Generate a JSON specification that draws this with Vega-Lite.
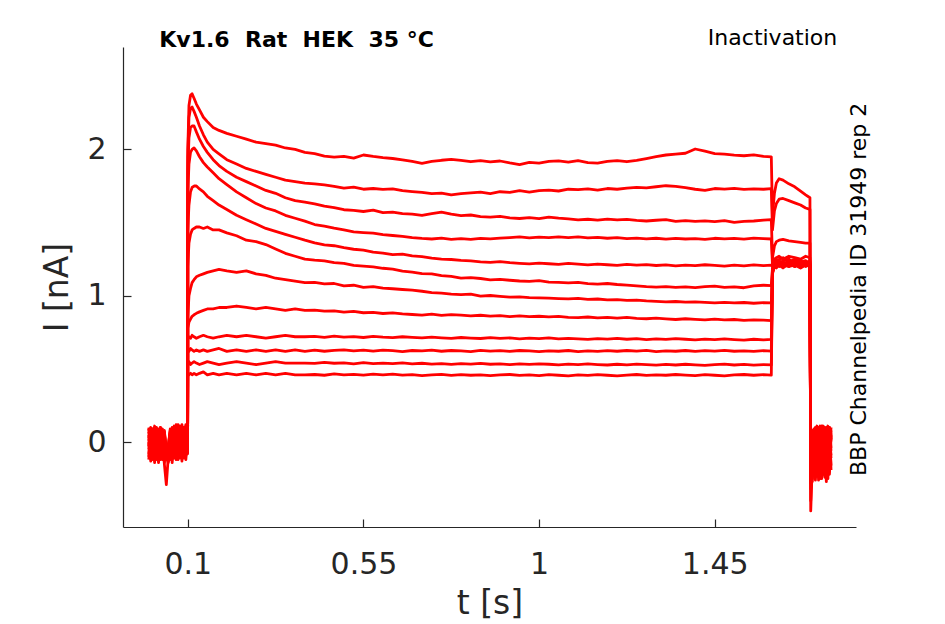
{
  "$schema": "https://vega.github.io/schema/vega-lite/v6.json",
  "width": 733,
  "height": 480,
  "autosize": "none",
  "padding": {"left": 123, "top": 47, "right": 89, "bottom": 97},
  "background": "white",
  "config": {
    "view": {"stroke": null},
    "axis": {
      "grid": false,
      "domainColor": "#262626",
      "tickColor": "#262626",
      "labelColor": "#262626",
      "titleColor": "#262626",
      "labelFont": "DejaVu Sans",
      "titleFont": "DejaVu Sans",
      "labelFontSize": 30,
      "titleFontSize": 33,
      "titleFontWeight": "normal",
      "tickSize": -8,
      "domainWidth": 1.2,
      "tickWidth": 1.2
    }
  },
  "layer": [
    {
      "data": {
        "values": [
          {"t": 0, "a": 0.05, "b": -0.08, "c": 0.09, "d": -0.03, "e": 0.02, "f": -0.12, "g": 0.07, "h": -0.05, "i": 0.10, "j": -0.10, "k": 0.00, "l": 0.04},
          {"t": 0.005, "a": -0.09, "b": 0.06, "c": -0.04, "d": 0.08, "e": -0.13, "f": 0.03, "g": -0.07, "h": 0.10, "i": -0.02, "j": 0.07, "k": -0.11, "l": -0.06},
          {"t": 0.01, "a": 0.08, "b": -0.12, "c": 0.05, "d": -0.09, "e": 0.06, "f": 0.09, "g": -0.03, "h": -0.10, "i": 0.04, "j": -0.05, "k": 0.09, "l": 0.02},
          {"t": 0.015, "a": -0.04, "b": 0.03, "c": -0.14, "d": 0.07, "e": -0.06, "f": -0.08, "g": 0.10, "h": 0.02, "i": -0.09, "j": 0.11, "k": -0.03, "l": -0.12},
          {"t": 0.02, "a": 0.10, "b": -0.05, "c": 0.07, "d": -0.11, "e": 0.09, "f": 0.05, "g": -0.12, "h": 0.08, "i": 0.03, "j": -0.08, "k": 0.06, "l": 0.07},
          {"t": 0.025, "a": -0.07, "b": 0.09, "c": -0.02, "d": 0.04, "e": -0.10, "f": -0.04, "g": 0.06, "h": -0.13, "i": 0.08, "j": 0.02, "k": -0.14, "l": -0.03},
          {"t": 0.03, "a": 0.03, "b": -0.11, "c": 0.10, "d": -0.06, "e": 0.05, "f": 0.10, "g": -0.09, "h": 0.04, "i": -0.12, "j": 0.09, "k": 0.05, "l": 0.08},
          {"t": 0.035, "a": -0.12, "b": 0.07, "c": -0.07, "d": 0.09, "e": -0.03, "f": -0.10, "g": 0.03, "h": -0.08, "i": 0.06, "j": -0.06, "k": -0.09, "l": -0.05},
          {"t": 0.04, "a": 0.06, "b": -0.03, "c": 0.02, "d": -0.14, "e": 0.08, "f": 0.01, "g": -0.15, "h": 0.06, "i": -0.04, "j": 0.03, "k": 0.07, "l": -0.10},
          {"t": 0.045, "a": -0.08, "b": -0.10, "c": -0.06, "d": -0.02, "e": -0.12, "f": -0.05, "g": -0.29, "h": -0.09, "i": -0.07, "j": -0.11, "k": -0.04, "l": -0.08},
          {"t": 0.05, "a": -0.03, "b": -0.14, "c": -0.09, "d": -0.06, "e": -0.05, "f": -0.12, "g": -0.10, "h": -0.04, "i": -0.13, "j": -0.02, "k": -0.08, "l": -0.11},
          {"t": 0.055, "a": 0.07, "b": -0.06, "c": 0.04, "d": -0.10, "e": 0.09, "f": -0.02, "g": 0.05, "h": -0.12, "i": 0.03, "j": 0.08, "k": -0.07, "l": 0.06},
          {"t": 0.06, "a": -0.10, "b": 0.08, "c": -0.12, "d": 0.05, "e": -0.07, "f": 0.09, "g": -0.14, "h": 0.07, "i": -0.09, "j": -0.04, "k": 0.10, "l": -0.06},
          {"t": 0.065, "a": 0.04, "b": -0.09, "c": 0.08, "d": -0.03, "e": 0.10, "f": -0.11, "g": 0.06, "h": -0.05, "i": 0.11, "j": -0.10, "k": -0.02, "l": 0.09},
          {"t": 0.07, "a": -0.06, "b": 0.11, "c": -0.05, "d": 0.10, "e": -0.02, "f": 0.04, "g": -0.08, "h": 0.12, "i": -0.06, "j": 0.07, "k": -0.12, "l": -0.03},
          {"t": 0.075, "a": 0.09, "b": -0.04, "c": 0.12, "d": -0.08, "e": 0.07, "f": -0.09, "g": 0.10, "h": -0.02, "i": 0.05, "j": -0.12, "k": 0.08, "l": 0.04},
          {"t": 0.08, "a": -0.11, "b": 0.06, "c": -0.03, "d": 0.11, "e": -0.09, "f": 0.07, "g": -0.06, "h": 0.09, "i": -0.10, "j": 0.04, "k": -0.05, "l": -0.09},
          {"t": 0.085, "a": 0.05, "b": -0.10, "c": 0.09, "d": -0.05, "e": 0.04, "f": -0.13, "g": 0.11, "h": -0.07, "i": 0.08, "j": -0.03, "k": 0.12, "l": 0.07},
          {"t": 0.09, "a": -0.04, "b": 0.08, "c": -0.08, "d": 0.06, "e": -0.11, "f": 0.10, "g": -0.04, "h": 0.05, "i": -0.08, "j": 0.10, "k": -0.07, "l": -0.02},
          {"t": 0.095, "a": 0.11, "b": -0.06, "c": 0.05, "d": -0.12, "e": 0.08, "f": -0.03, "g": 0.09, "h": -0.09, "i": 0.12, "j": -0.07, "k": 0.04, "l": 0.10},
          {"t": 0.0995, "a": -0.02, "b": 0.03, "c": -0.06, "d": 0.02, "e": -0.08, "f": 0.05, "g": -0.01, "h": 0.04, "i": -0.05, "j": 0.00, "k": -0.03, "l": 0.06},
          {"t": 0.1, "a": 2.00, "b": 1.95, "c": 1.85, "d": 1.70, "e": 1.45, "f": 1.20, "g": 0.85, "h": 0.78, "i": 0.71, "j": 0.63, "k": 0.54, "l": 0.47},
          {"t": 0.103, "a": 2.30, "b": 2.22, "c": 2.08, "d": 1.90, "e": 1.62, "f": 1.36, "g": 1.00, "h": 0.82, "i": 0.72, "j": 0.62, "k": 0.55, "l": 0.46},
          {"t": 0.107, "a": 2.37, "b": 2.28, "c": 2.15, "d": 1.98, "e": 1.71, "f": 1.42, "g": 1.05, "h": 0.84, "i": 0.71, "j": 0.64, "k": 0.53, "l": 0.47},
          {"t": 0.111, "a": 2.38, "b": 2.29, "c": 2.16, "d": 2.00, "e": 1.74, "f": 1.45, "g": 1.09, "h": 0.86, "i": 0.73, "j": 0.63, "k": 0.54, "l": 0.46},
          {"t": 0.116, "a": 2.35, "b": 2.26, "c": 2.16, "d": 2.01, "e": 1.75, "f": 1.46, "g": 1.11, "h": 0.87, "i": 0.72, "j": 0.62, "k": 0.55, "l": 0.47},
          {"t": 0.122, "a": 2.31, "b": 2.22, "c": 2.12, "d": 1.99, "e": 1.75, "f": 1.47, "g": 1.13, "h": 0.88, "i": 0.71, "j": 0.63, "k": 0.54, "l": 0.46},
          {"t": 0.13, "a": 2.27, "b": 2.16, "c": 2.07, "d": 1.95, "e": 1.73, "f": 1.47, "g": 1.14, "h": 0.89, "i": 0.72, "j": 0.62, "k": 0.53, "l": 0.47},
          {"t": 0.14, "a": 2.22, "b": 2.10, "c": 2.02, "d": 1.91, "e": 1.71, "f": 1.46, "g": 1.15, "h": 0.90, "i": 0.73, "j": 0.63, "k": 0.54, "l": 0.48},
          {"t": 0.15, "a": 2.19, "b": 2.05, "c": 1.98, "d": 1.88, "e": 1.68, "f": 1.47, "g": 1.16, "h": 0.91, "i": 0.72, "j": 0.62, "k": 0.55, "l": 0.46},
          {"t": 0.165, "a": 2.15, "b": 2.00, "c": 1.93, "d": 1.84, "e": 1.65, "f": 1.45, "g": 1.17, "h": 0.91, "i": 0.71, "j": 0.63, "k": 0.54, "l": 0.47},
          {"t": 0.18, "a": 2.13, "b": 1.97, "c": 1.89, "d": 1.80, "e": 1.62, "f": 1.45, "g": 1.18, "h": 0.92, "i": 0.72, "j": 0.64, "k": 0.53, "l": 0.46},
          {"t": 0.2, "a": 2.11, "b": 1.93, "c": 1.85, "d": 1.76, "e": 1.59, "f": 1.43, "g": 1.17, "h": 0.92, "i": 0.73, "j": 0.62, "k": 0.54, "l": 0.47},
          {"t": 0.225, "a": 2.09, "b": 1.90, "c": 1.81, "d": 1.71, "e": 1.55, "f": 1.41, "g": 1.16, "h": 0.93, "i": 0.72, "j": 0.63, "k": 0.55, "l": 0.46},
          {"t": 0.25, "a": 2.07, "b": 1.87, "c": 1.78, "d": 1.67, "e": 1.52, "f": 1.38, "g": 1.17, "h": 0.92, "i": 0.73, "j": 0.62, "k": 0.54, "l": 0.47},
          {"t": 0.275, "a": 2.05, "b": 1.85, "c": 1.75, "d": 1.63, "e": 1.49, "f": 1.37, "g": 1.15, "h": 0.91, "i": 0.72, "j": 0.63, "k": 0.53, "l": 0.46},
          {"t": 0.3, "a": 2.04, "b": 1.83, "c": 1.72, "d": 1.60, "e": 1.46, "f": 1.35, "g": 1.14, "h": 0.92, "i": 0.71, "j": 0.62, "k": 0.54, "l": 0.47},
          {"t": 0.325, "a": 2.03, "b": 1.81, "c": 1.70, "d": 1.58, "e": 1.44, "f": 1.32, "g": 1.12, "h": 0.91, "i": 0.72, "j": 0.63, "k": 0.55, "l": 0.46},
          {"t": 0.35, "a": 2.01, "b": 1.79, "c": 1.67, "d": 1.55, "e": 1.42, "f": 1.29, "g": 1.11, "h": 0.90, "i": 0.73, "j": 0.62, "k": 0.54, "l": 0.47},
          {"t": 0.375, "a": 2.00, "b": 1.78, "c": 1.65, "d": 1.53, "e": 1.40, "f": 1.27, "g": 1.10, "h": 0.91, "i": 0.72, "j": 0.63, "k": 0.54, "l": 0.46},
          {"t": 0.4, "a": 1.98, "b": 1.77, "c": 1.64, "d": 1.51, "e": 1.38, "f": 1.25, "g": 1.09, "h": 0.90, "i": 0.72, "j": 0.62, "k": 0.54, "l": 0.46},
          {"t": 0.425, "a": 1.972, "b": 1.765, "c": 1.628, "d": 1.487, "e": 1.362, "f": 1.243, "g": 1.092, "h": 0.902, "i": 0.722, "j": 0.628, "k": 0.538, "l": 0.462},
          {"t": 0.45, "a": 1.955, "b": 1.758, "c": 1.612, "d": 1.476, "e": 1.348, "f": 1.238, "g": 1.081, "h": 0.895, "i": 0.716, "j": 0.621, "k": 0.545, "l": 0.457},
          {"t": 0.475, "a": 1.948, "b": 1.748, "c": 1.603, "d": 1.462, "e": 1.342, "f": 1.226, "g": 1.084, "h": 0.897, "i": 0.724, "j": 0.627, "k": 0.539, "l": 0.466},
          {"t": 0.5, "a": 1.953, "b": 1.735, "c": 1.588, "d": 1.451, "e": 1.329, "f": 1.222, "g": 1.068, "h": 0.888, "i": 0.718, "j": 0.631, "k": 0.541, "l": 0.459},
          {"t": 0.525, "a": 1.941, "b": 1.742, "c": 1.584, "d": 1.437, "e": 1.318, "f": 1.208, "g": 1.072, "h": 0.893, "i": 0.721, "j": 0.624, "k": 0.535, "l": 0.463},
          {"t": 0.55, "a": 1.962, "b": 1.728, "c": 1.576, "d": 1.432, "e": 1.312, "f": 1.203, "g": 1.058, "h": 0.884, "i": 0.715, "j": 0.628, "k": 0.543, "l": 0.458},
          {"t": 0.575, "a": 1.952, "b": 1.733, "c": 1.585, "d": 1.428, "e": 1.298, "f": 1.197, "g": 1.063, "h": 0.887, "i": 0.723, "j": 0.622, "k": 0.537, "l": 0.464},
          {"t": 0.6, "a": 1.944, "b": 1.727, "c": 1.568, "d": 1.418, "e": 1.292, "f": 1.188, "g": 1.052, "h": 0.879, "i": 0.717, "j": 0.629, "k": 0.540, "l": 0.460},
          {"t": 0.625, "a": 1.938, "b": 1.731, "c": 1.572, "d": 1.412, "e": 1.281, "f": 1.182, "g": 1.048, "h": 0.883, "i": 0.714, "j": 0.625, "k": 0.536, "l": 0.465},
          {"t": 0.65, "a": 1.929, "b": 1.718, "c": 1.561, "d": 1.406, "e": 1.284, "f": 1.168, "g": 1.043, "h": 0.876, "i": 0.720, "j": 0.619, "k": 0.542, "l": 0.458},
          {"t": 0.675, "a": 1.918, "b": 1.712, "c": 1.558, "d": 1.398, "e": 1.272, "f": 1.162, "g": 1.038, "h": 0.872, "i": 0.716, "j": 0.626, "k": 0.535, "l": 0.461},
          {"t": 0.7, "a": 1.905, "b": 1.707, "c": 1.549, "d": 1.392, "e": 1.268, "f": 1.152, "g": 1.031, "h": 0.868, "i": 0.712, "j": 0.623, "k": 0.539, "l": 0.455},
          {"t": 0.725, "a": 1.918, "b": 1.698, "c": 1.562, "d": 1.388, "e": 1.257, "f": 1.149, "g": 1.022, "h": 0.874, "i": 0.718, "j": 0.628, "k": 0.533, "l": 0.459},
          {"t": 0.75, "a": 1.926, "b": 1.702, "c": 1.572, "d": 1.394, "e": 1.251, "f": 1.138, "g": 1.018, "h": 0.866, "i": 0.713, "j": 0.621, "k": 0.537, "l": 0.463},
          {"t": 0.775, "a": 1.932, "b": 1.689, "c": 1.558, "d": 1.386, "e": 1.248, "f": 1.132, "g": 1.012, "h": 0.871, "i": 0.709, "j": 0.626, "k": 0.531, "l": 0.456},
          {"t": 0.8, "a": 1.925, "b": 1.698, "c": 1.548, "d": 1.391, "e": 1.242, "f": 1.121, "g": 1.008, "h": 0.868, "i": 0.715, "j": 0.624, "k": 0.536, "l": 0.461},
          {"t": 0.825, "a": 1.916, "b": 1.703, "c": 1.552, "d": 1.385, "e": 1.238, "f": 1.124, "g": 1.011, "h": 0.863, "i": 0.711, "j": 0.619, "k": 0.533, "l": 0.457},
          {"t": 0.85, "a": 1.924, "b": 1.708, "c": 1.541, "d": 1.392, "e": 1.232, "f": 1.118, "g": 0.998, "h": 0.867, "i": 0.708, "j": 0.627, "k": 0.538, "l": 0.460},
          {"t": 0.875, "a": 1.915, "b": 1.698, "c": 1.538, "d": 1.389, "e": 1.228, "f": 1.109, "g": 1.002, "h": 0.861, "i": 0.714, "j": 0.622, "k": 0.532, "l": 0.455},
          {"t": 0.9, "a": 1.921, "b": 1.711, "c": 1.543, "d": 1.394, "e": 1.233, "f": 1.112, "g": 0.996, "h": 0.864, "i": 0.709, "j": 0.625, "k": 0.535, "l": 0.459},
          {"t": 0.925, "a": 1.908, "b": 1.706, "c": 1.532, "d": 1.398, "e": 1.226, "f": 1.106, "g": 0.991, "h": 0.858, "i": 0.712, "j": 0.620, "k": 0.530, "l": 0.462},
          {"t": 0.95, "a": 1.897, "b": 1.718, "c": 1.528, "d": 1.402, "e": 1.222, "f": 1.101, "g": 0.993, "h": 0.862, "i": 0.706, "j": 0.626, "k": 0.534, "l": 0.456},
          {"t": 0.975, "a": 1.911, "b": 1.709, "c": 1.534, "d": 1.396, "e": 1.218, "f": 1.098, "g": 0.988, "h": 0.857, "i": 0.711, "j": 0.623, "k": 0.531, "l": 0.460},
          {"t": 1.0, "a": 1.906, "b": 1.719, "c": 1.527, "d": 1.401, "e": 1.223, "f": 1.103, "g": 0.986, "h": 0.860, "i": 0.707, "j": 0.618, "k": 0.535, "l": 0.455},
          {"t": 1.025, "a": 1.918, "b": 1.722, "c": 1.538, "d": 1.397, "e": 1.219, "f": 1.094, "g": 0.984, "h": 0.856, "i": 0.712, "j": 0.624, "k": 0.532, "l": 0.461},
          {"t": 1.05, "a": 1.922, "b": 1.716, "c": 1.531, "d": 1.403, "e": 1.214, "f": 1.091, "g": 0.981, "h": 0.859, "i": 0.705, "j": 0.621, "k": 0.528, "l": 0.457},
          {"t": 1.075, "a": 1.913, "b": 1.728, "c": 1.526, "d": 1.398, "e": 1.221, "f": 1.088, "g": 0.979, "h": 0.853, "i": 0.709, "j": 0.626, "k": 0.533, "l": 0.453},
          {"t": 1.1, "a": 1.924, "b": 1.725, "c": 1.519, "d": 1.402, "e": 1.216, "f": 1.092, "g": 0.982, "h": 0.851, "i": 0.706, "j": 0.619, "k": 0.529, "l": 0.459},
          {"t": 1.125, "a": 1.910, "b": 1.731, "c": 1.523, "d": 1.396, "e": 1.211, "f": 1.083, "g": 0.976, "h": 0.855, "i": 0.702, "j": 0.624, "k": 0.534, "l": 0.456},
          {"t": 1.15, "a": 1.907, "b": 1.722, "c": 1.517, "d": 1.399, "e": 1.217, "f": 1.079, "g": 0.978, "h": 0.849, "i": 0.707, "j": 0.620, "k": 0.530, "l": 0.461},
          {"t": 1.175, "a": 1.919, "b": 1.733, "c": 1.524, "d": 1.393, "e": 1.212, "f": 1.084, "g": 0.972, "h": 0.852, "i": 0.704, "j": 0.625, "k": 0.527, "l": 0.457},
          {"t": 1.2, "a": 1.923, "b": 1.728, "c": 1.518, "d": 1.397, "e": 1.208, "f": 1.077, "g": 0.974, "h": 0.848, "i": 0.709, "j": 0.621, "k": 0.532, "l": 0.453},
          {"t": 1.225, "a": 1.916, "b": 1.736, "c": 1.522, "d": 1.391, "e": 1.214, "f": 1.073, "g": 0.968, "h": 0.852, "i": 0.703, "j": 0.626, "k": 0.528, "l": 0.458},
          {"t": 1.25, "a": 1.925, "b": 1.741, "c": 1.515, "d": 1.394, "e": 1.209, "f": 1.068, "g": 0.971, "h": 0.846, "i": 0.707, "j": 0.622, "k": 0.533, "l": 0.462},
          {"t": 1.275, "a": 1.938, "b": 1.738, "c": 1.511, "d": 1.389, "e": 1.213, "f": 1.062, "g": 0.965, "h": 0.843, "i": 0.701, "j": 0.627, "k": 0.529, "l": 0.456},
          {"t": 1.3, "a": 1.951, "b": 1.745, "c": 1.516, "d": 1.393, "e": 1.207, "f": 1.059, "g": 0.962, "h": 0.847, "i": 0.705, "j": 0.619, "k": 0.526, "l": 0.460},
          {"t": 1.325, "a": 1.962, "b": 1.752, "c": 1.521, "d": 1.387, "e": 1.211, "f": 1.063, "g": 0.958, "h": 0.842, "i": 0.702, "j": 0.624, "k": 0.531, "l": 0.457},
          {"t": 1.35, "a": 1.968, "b": 1.748, "c": 1.509, "d": 1.392, "e": 1.205, "f": 1.057, "g": 0.961, "h": 0.838, "i": 0.707, "j": 0.621, "k": 0.527, "l": 0.462},
          {"t": 1.375, "a": 1.974, "b": 1.739, "c": 1.514, "d": 1.388, "e": 1.209, "f": 1.061, "g": 0.956, "h": 0.843, "i": 0.703, "j": 0.626, "k": 0.532, "l": 0.458},
          {"t": 1.4, "a": 2.003, "b": 1.728, "c": 1.508, "d": 1.391, "e": 1.206, "f": 1.056, "g": 0.959, "h": 0.839, "i": 0.699, "j": 0.620, "k": 0.528, "l": 0.455},
          {"t": 1.425, "a": 1.988, "b": 1.721, "c": 1.512, "d": 1.386, "e": 1.212, "f": 1.062, "g": 0.955, "h": 0.836, "i": 0.704, "j": 0.625, "k": 0.524, "l": 0.461},
          {"t": 1.45, "a": 1.972, "b": 1.733, "c": 1.507, "d": 1.393, "e": 1.208, "f": 1.066, "g": 0.952, "h": 0.841, "i": 0.700, "j": 0.622, "k": 0.529, "l": 0.457},
          {"t": 1.475, "a": 1.968, "b": 1.729, "c": 1.513, "d": 1.389, "e": 1.203, "f": 1.058, "g": 0.955, "h": 0.835, "i": 0.705, "j": 0.627, "k": 0.533, "l": 0.453},
          {"t": 1.5, "a": 1.961, "b": 1.734, "c": 1.502, "d": 1.392, "e": 1.209, "f": 1.061, "g": 0.951, "h": 0.838, "i": 0.701, "j": 0.621, "k": 0.527, "l": 0.459},
          {"t": 1.525, "a": 1.957, "b": 1.727, "c": 1.509, "d": 1.387, "e": 1.205, "f": 1.055, "g": 0.954, "h": 0.832, "i": 0.697, "j": 0.624, "k": 0.531, "l": 0.462},
          {"t": 1.55, "a": 1.963, "b": 1.731, "c": 1.511, "d": 1.394, "e": 1.211, "f": 1.068, "g": 0.949, "h": 0.836, "i": 0.703, "j": 0.620, "k": 0.526, "l": 0.457},
          {"t": 1.575, "a": 1.952, "b": 1.728, "c": 1.517, "d": 1.391, "e": 1.206, "f": 1.072, "g": 0.953, "h": 0.833, "i": 0.699, "j": 0.625, "k": 0.530, "l": 0.461},
          {"t": 1.595, "a": 1.949, "b": 1.732, "c": 1.521, "d": 1.388, "e": 1.209, "f": 1.069, "g": 0.951, "h": 0.830, "i": 0.702, "j": 0.622, "k": 0.528, "l": 0.458},
          {"t": 1.598, "a": 1.55, "b": 1.45, "c": 1.26, "d": 1.21, "e": 1.20, "f": 1.19, "g": 1.18, "h": 1.17, "i": 1.17, "j": 1.16, "k": 1.16, "l": 1.15},
          {"t": 1.603, "a": 1.70, "b": 1.58, "c": 1.34, "d": 1.25, "e": 1.24, "f": 1.23, "g": 1.22, "h": 1.22, "i": 1.21, "j": 1.21, "k": 1.20, "l": 1.20},
          {"t": 1.608, "a": 1.77, "b": 1.63, "c": 1.37, "d": 1.26, "e": 1.23, "f": 1.25, "g": 1.21, "h": 1.24, "i": 1.20, "j": 1.23, "k": 1.22, "l": 1.19},
          {"t": 1.615, "a": 1.80, "b": 1.66, "c": 1.38, "d": 1.27, "e": 1.25, "f": 1.22, "g": 1.24, "h": 1.21, "i": 1.23, "j": 1.20, "k": 1.21, "l": 1.22},
          {"t": 1.625, "a": 1.79, "b": 1.665, "c": 1.385, "d": 1.25, "e": 1.26, "f": 1.24, "g": 1.22, "h": 1.23, "i": 1.21, "j": 1.22, "k": 1.19, "l": 1.21},
          {"t": 1.64, "a": 1.765, "b": 1.65, "c": 1.375, "d": 1.27, "e": 1.23, "f": 1.25, "g": 1.21, "h": 1.22, "i": 1.24, "j": 1.20, "k": 1.22, "l": 1.20},
          {"t": 1.655, "a": 1.745, "b": 1.635, "c": 1.37, "d": 1.26, "e": 1.25, "f": 1.22, "g": 1.24, "h": 1.20, "i": 1.22, "j": 1.23, "k": 1.20, "l": 1.21},
          {"t": 1.67, "a": 1.715, "b": 1.62, "c": 1.365, "d": 1.25, "e": 1.24, "f": 1.23, "g": 1.22, "h": 1.23, "i": 1.20, "j": 1.21, "k": 1.23, "l": 1.19},
          {"t": 1.683, "a": 1.69, "b": 1.60, "c": 1.36, "d": 1.27, "e": 1.22, "f": 1.24, "g": 1.23, "h": 1.21, "i": 1.23, "j": 1.22, "k": 1.20, "l": 1.21},
          {"t": 1.694, "a": 1.67, "b": 1.59, "c": 1.36, "d": 1.26, "e": 1.24, "f": 1.22, "g": 1.21, "h": 1.23, "i": 1.21, "j": 1.20, "k": 1.22, "l": 1.20},
          {"t": 1.696, "a": -0.47, "b": -0.40, "c": -0.32, "d": -0.28, "e": -0.26, "f": -0.25, "g": -0.22, "h": -0.24, "i": -0.20, "j": -0.22, "k": -0.18, "l": -0.21},
          {"t": 1.7, "a": -0.15, "b": -0.05, "c": -0.22, "d": 0.02, "e": -0.12, "f": -0.27, "g": -0.08, "h": 0.05, "i": -0.18, "j": -0.02, "k": -0.25, "l": 0.08},
          {"t": 1.704, "a": 0.06, "b": -0.20, "c": 0.03, "d": -0.14, "e": 0.09, "f": -0.06, "g": -0.22, "h": 0.00, "i": 0.07, "j": -0.16, "k": 0.04, "l": -0.10},
          {"t": 1.708, "a": -0.24, "b": 0.08, "c": -0.12, "d": 0.05, "e": -0.18, "f": 0.10, "g": 0.02, "h": -0.26, "i": -0.05, "j": 0.09, "k": -0.14, "l": 0.01},
          {"t": 1.712, "a": 0.10, "b": -0.09, "c": 0.07, "d": -0.23, "e": 0.03, "f": -0.15, "g": 0.09, "h": -0.07, "i": -0.21, "j": 0.04, "k": 0.11, "l": -0.19},
          {"t": 1.716, "a": -0.08, "b": 0.04, "c": -0.26, "d": 0.09, "e": -0.10, "f": 0.06, "g": -0.17, "h": 0.10, "i": 0.02, "j": -0.24, "k": -0.06, "l": 0.07},
          {"t": 1.72, "a": 0.02, "b": -0.25, "c": 0.10, "d": -0.05, "e": 0.06, "f": -0.22, "g": 0.05, "h": -0.14, "i": 0.09, "j": -0.08, "k": -0.20, "l": 0.11},
          {"t": 1.724, "a": -0.19, "b": 0.11, "c": -0.04, "d": -0.17, "e": -0.25, "f": 0.03, "g": -0.10, "h": 0.07, "i": -0.13, "j": 0.10, "k": 0.05, "l": -0.09},
          {"t": 1.728, "a": 0.09, "b": -0.12, "c": 0.06, "d": 0.10, "e": -0.03, "f": -0.18, "g": 0.11, "h": -0.22, "i": 0.06, "j": -0.19, "k": -0.11, "l": 0.04},
          {"t": 1.732, "a": -0.05, "b": 0.07, "c": -0.20, "d": -0.08, "e": 0.10, "f": 0.08, "g": -0.24, "h": 0.03, "i": -0.16, "j": 0.06, "k": 0.09, "l": -0.23},
          {"t": 1.736, "a": -0.27, "b": -0.03, "c": 0.09, "d": 0.06, "e": -0.15, "f": -0.11, "g": 0.04, "h": -0.18, "i": 0.10, "j": -0.04, "k": -0.21, "l": 0.06},
          {"t": 1.74, "a": 0.07, "b": -0.21, "c": -0.09, "d": -0.20, "e": 0.05, "f": 0.09, "g": -0.07, "h": 0.08, "i": -0.25, "j": 0.11, "k": 0.02, "l": -0.14},
          {"t": 1.744, "a": -0.12, "b": 0.10, "c": 0.05, "d": 0.03, "e": -0.22, "f": -0.14, "g": 0.10, "h": -0.11, "i": 0.04, "j": -0.20, "k": -0.07, "l": 0.09},
          {"t": 1.748, "a": 0.04, "b": -0.06, "c": -0.16, "d": -0.11, "e": 0.08, "f": 0.05, "g": -0.19, "h": 0.06, "i": -0.09, "j": 0.03, "k": 0.10, "l": -0.04}
        ]
      },
      "transform": [
        {"fold": ["a", "b", "c", "d", "e", "f", "g", "h", "i", "j", "k", "l"], "as": ["trace", "I"]}
      ],
      "mark": {"type": "line", "color": "#ff0000", "strokeWidth": 2.8, "strokeJoin": "round"},
      "encoding": {
        "x": {
          "field": "t",
          "type": "quantitative",
          "scale": {"domain": [-0.066, 1.812], "nice": false, "zero": false},
          "axis": {"title": "t [s]", "values": [0.1, 0.55, 1, 1.45], "format": ".3~g", "labelPadding": 30, "titlePadding": 8}
        },
        "y": {
          "field": "I",
          "type": "quantitative",
          "scale": {"domain": [-0.58, 2.7], "nice": false, "zero": false},
          "axis": {"title": "I [nA]", "values": [0, 1, 2], "format": ".3~g", "labelPadding": 25, "titlePadding": 12}
        },
        "detail": {"field": "trace"}
      }
    },
    {
      "data": {"values": [{}]},
      "mark": {"type": "text", "text": "Kv1.6\u00a0 Rat\u00a0 HEK\u00a0 35 °C", "align": "left", "baseline": "alphabetic", "font": "DejaVu Sans", "fontSize": 22, "fontWeight": "bold", "color": "#000000"},
      "encoding": {
        "x": {"datum": 0.027, "type": "quantitative"},
        "y": {"datum": 2.703, "type": "quantitative"}
      }
    },
    {
      "data": {"values": [{}]},
      "mark": {"type": "text", "text": "Inactivation", "align": "right", "baseline": "alphabetic", "font": "DejaVu Sans", "fontSize": 22, "color": "#000000"},
      "encoding": {
        "x": {"datum": 1.764, "type": "quantitative"},
        "y": {"datum": 2.713, "type": "quantitative"}
      }
    },
    {
      "data": {"values": [{}]},
      "mark": {"type": "text", "text": "BBP Channelpedia ID 31949 rep 2", "angle": 270, "align": "center", "baseline": "alphabetic", "font": "DejaVu Sans", "fontSize": 22, "color": "#000000"},
      "encoding": {
        "x": {"datum": 1.838, "type": "quantitative"},
        "y": {"datum": 1.044, "type": "quantitative"}
      }
    }
  ]
}
